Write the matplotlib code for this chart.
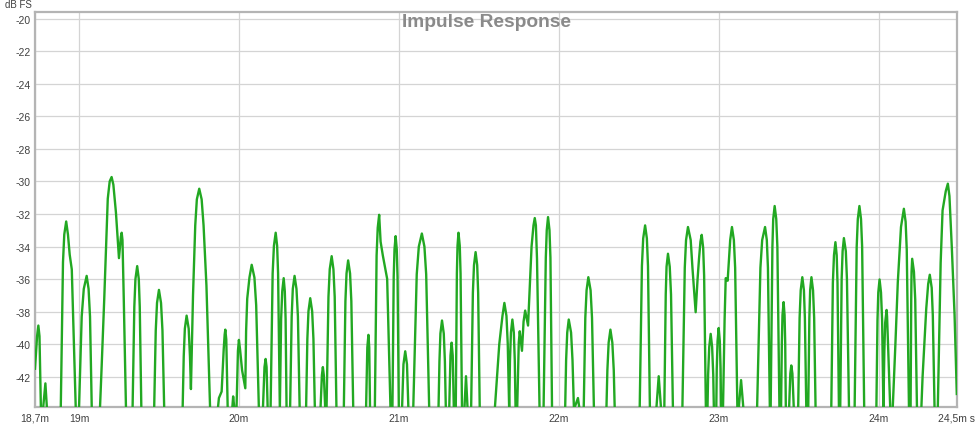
import matplotlib
matplotlib.use("Agg")
import matplotlib.pyplot as plt

# Impulse response trace (time in ms, level in dB FS).
# One line per lobe; -44 sits just under the plot floor, where a lobe leaves the bottom edge.
time_ms = [
    18.725, 18.738, 18.746, 18.753, 18.762,
    18.775, 18.79, 18.80,
    18.886, 18.900, 18.908, 18.92, 18.931, 18.942, 18.955, 18.98,
    19.0, 19.017, 19.030, 19.048, 19.060, 19.069, 19.08,
    19.131, 19.142, 19.158, 19.18, 19.192, 19.204, 19.215, 19.231, 19.25, 19.262, 19.267, 19.272, 19.28, 19.294,
    19.335, 19.346, 19.353, 19.364, 19.374, 19.380, 19.39,
    19.47, 19.480, 19.488, 19.5, 19.513, 19.522, 19.533,
    19.648, 19.655, 19.662, 19.673, 19.686, 19.694, 19.70,
    19.713, 19.727, 19.737, 19.752, 19.767, 19.779, 19.797, 19.82,
    19.868, 19.875, 19.892, 19.905, 19.911, 19.915, 19.921, 19.93,
    19.958, 19.964, 19.972,
    19.985, 19.994, 20.0, 20.007, 20.02, 20.04,
    20.045, 20.052, 20.066, 20.08, 20.097, 20.108, 20.125,
    20.15, 20.160, 20.167, 20.173, 20.18,
    20.198, 20.211, 20.219, 20.23, 20.239, 20.245, 20.256,
    20.264, 20.271, 20.28, 20.287, 20.292, 20.298,
    20.32, 20.330, 20.337, 20.348, 20.360, 20.369, 20.38,
    20.42, 20.428, 20.435, 20.446, 20.458, 20.466, 20.475,
    20.51, 20.519, 20.525, 20.531, 20.54,
    20.548, 20.560, 20.568, 20.58, 20.591, 20.599, 20.61,
    20.656, 20.666, 20.673, 20.683, 20.695, 20.703, 20.715,
    20.795, 20.803, 20.81, 20.815, 20.82,
    20.85, 20.861, 20.868, 20.877, 20.886, 20.90, 20.927, 20.948,
    20.96, 20.968, 20.973, 20.98, 20.987, 20.992, 21.0,
    21.02, 21.029, 21.04, 21.051, 21.06,
    21.09, 21.112, 21.125, 21.144, 21.160, 21.171, 21.19,
    21.248, 21.254, 21.260, 21.27, 21.281, 21.288, 21.294,
    21.315, 21.323, 21.33, 21.337, 21.344,
    21.356, 21.363, 21.367, 21.373, 21.381, 21.386, 21.395,
    21.41, 21.42, 21.43,
    21.452, 21.463, 21.470, 21.48, 21.490, 21.496, 21.506,
    21.6, 21.628, 21.648, 21.66, 21.673, 21.681, 21.69,
    21.695, 21.701, 21.71, 21.719, 21.725, 21.73,
    21.74, 21.75, 21.756, 21.762, 21.77, 21.78, 21.79, 21.799, 21.808, 21.83, 21.842, 21.85, 21.857, 21.864, 21.88,
    21.905, 21.919, 21.925, 21.933, 21.942, 21.948, 21.958,
    22.04, 22.046, 22.053, 22.0625, 22.077, 22.086, 22.095, 22.12, 22.13,
    22.156, 22.166, 22.174, 22.185, 22.199, 22.208, 22.22,
    22.298, 22.304, 22.312, 22.323, 22.335, 22.344, 22.35,
    22.506, 22.52, 22.528, 22.54, 22.551, 22.558, 22.57,
    22.61, 22.625, 22.64,
    22.66, 22.669, 22.674, 22.683, 22.694, 22.702, 22.714,
    22.773, 22.788, 22.796, 22.808, 22.825, 22.836, 22.856, 22.868, 22.877, 22.886, 22.894, 22.903, 22.909, 22.92,
    22.93, 22.934, 22.941, 22.95, 22.959, 22.966, 22.97,
    22.985, 22.988, 22.993, 23.0, 23.007, 23.012, 23.015,
    23.027, 23.037, 23.044, 23.056, 23.072, 23.083, 23.095, 23.103, 23.117,
    23.125, 23.14, 23.155,
    23.24, 23.261, 23.272, 23.29, 23.301, 23.308, 23.32,
    23.325, 23.336, 23.341, 23.35, 23.360, 23.367, 23.38,
    23.39, 23.395, 23.399, 23.406, 23.412, 23.416, 23.42,
    23.44, 23.448, 23.454, 23.461, 23.47,
    23.497, 23.506, 23.513, 23.523, 23.533, 23.539, 23.548,
    23.56, 23.567, 23.572, 23.58, 23.59, 23.597, 23.606,
    23.704, 23.714, 23.721, 23.73, 23.738, 23.743, 23.752,
    23.76, 23.769, 23.775, 23.783, 23.795, 23.802, 23.815,
    23.85, 23.863, 23.870, 23.88, 23.890, 23.897, 23.91,
    23.986, 23.993, 23.998, 24.006, 24.015, 24.022, 24.03,
    24.036, 24.041, 24.05, 24.053, 24.056, 24.073,
    24.088, 24.105, 24.12, 24.14, 24.158, 24.169, 24.176, 24.19,
    24.2, 24.204, 24.206, 24.21, 24.221, 24.229, 24.24,
    24.267, 24.275, 24.298, 24.31, 24.32, 24.332, 24.339, 24.35,
    24.37, 24.388, 24.40, 24.42, 24.433, 24.443, 24.458, 24.475, 24.489,
]
level_db = [
    -41.5, -39.5, -38.85, -39.5, -44,
    -44, -42.4, -44,
    -44, -34.96, -33.26, -32.46, -33.26, -34.5, -35.4, -44,
    -44, -38.3, -36.6, -35.8, -36.6, -38.3, -44,
    -44, -41.3, -37.2, -31.06, -30.0, -29.73, -30.2, -31.9, -34.71, -33.4, -33.15, -33.6, -37.2, -44,
    -44, -37.7, -36.0, -35.2, -36.0, -37.7, -44,
    -44, -39.16, -37.46, -36.66, -37.46, -39.16, -44,
    -44, -40.74, -39.04, -38.24, -39.04, -40.74, -42.75,
    -37.0, -32.7, -31.1, -30.45, -31.1, -32.7, -36.4, -44,
    -44, -43.3, -42.9, -40.3, -39.4, -39.1, -39.7, -44,
    -44, -43.2, -44,
    -44, -40.4, -39.73, -40.3, -41.6, -42.7,
    -39.2, -37.2, -35.9, -35.12, -35.9, -37.6, -44,
    -44, -41.4, -40.9, -41.4, -44,
    -44, -35.65, -33.95, -33.15, -33.95, -35.65, -44,
    -38.44, -36.74, -35.94, -36.74, -38.44, -44,
    -44, -38.3, -36.6, -35.8, -36.6, -38.3, -44,
    -44, -39.67, -37.97, -37.17, -37.97, -39.67, -44,
    -44, -41.9, -41.4, -41.9, -44,
    -44, -37.09, -35.39, -34.59, -35.39, -37.09, -44,
    -44, -37.35, -35.65, -34.85, -35.65, -37.35, -44,
    -44, -40.2, -39.42, -40.2, -44,
    -44, -34.55, -32.85, -32.05, -33.7, -34.55, -35.98, -44,
    -44, -35.86, -34.16, -33.36, -34.16, -35.86, -44,
    -44, -41.23, -40.43, -41.23, -44,
    -44, -35.7, -34.0, -33.2, -34.0, -35.7, -44,
    -44, -41.04, -39.34, -38.54, -39.34, -41.04, -44,
    -44, -40.7, -39.9, -40.7, -44,
    -44, -35.65, -33.95, -33.15, -33.95, -35.65, -44,
    -44, -41.96, -44,
    -44, -36.84, -35.14, -34.34, -35.14, -36.84, -44,
    -44, -40.0, -38.26, -37.46, -38.26, -39.96, -44,
    -40.98, -39.28, -38.48, -39.28, -40.98, -44,
    -44, -39.9, -39.2, -39.7, -40.4, -38.6, -37.93, -38.4, -38.85, -34.0, -32.7, -32.25, -32.7, -34.75, -44,
    -44, -34.69, -32.99, -32.19, -32.99, -34.69, -44,
    -44, -40.98, -39.28, -38.48, -39.28, -40.98, -44, -43.3, -44,
    -44, -38.38, -36.68, -35.88, -36.68, -38.38, -44,
    -44, -41.6, -39.9, -39.1, -39.9, -41.6, -44,
    -44, -35.2, -33.5, -32.7, -33.5, -35.2, -44,
    -44, -41.96, -44,
    -44, -36.94, -35.24, -34.44, -35.24, -36.94, -44,
    -44, -35.3, -33.6, -32.8, -33.6, -35.3, -38.03, -36.0, -34.75, -33.7, -33.28, -34.08, -35.78, -44,
    -44, -41.86, -40.16, -39.36, -40.16, -41.86, -44,
    -44, -41.5, -39.8, -39.0, -39.8, -41.5, -44,
    -44, -38.5, -35.94, -36.1, -33.6, -32.8, -33.6, -35.3, -44,
    -44, -42.2, -44,
    -44, -35.3, -33.6, -32.8, -33.6, -35.3, -44,
    -44, -34.01, -32.31, -31.51, -32.31, -34.01, -44,
    -44, -39.91, -38.21, -37.41, -38.21, -39.91, -44,
    -44, -41.8, -41.3, -41.8, -44,
    -44, -38.38, -36.68, -35.88, -36.68, -38.38, -44,
    -44, -38.38, -36.68, -35.88, -36.68, -38.38, -44,
    -44, -36.23, -34.53, -33.73, -34.53, -36.23, -44,
    -44, -35.98, -34.28, -33.48, -34.28, -35.98, -44,
    -44, -34.01, -32.31, -31.51, -32.31, -34.01, -44,
    -44, -38.52, -36.82, -36.02, -36.82, -38.52, -44,
    -40.39, -38.69, -37.89, -38.3, -39.15, -44,
    -44, -40.0, -36.2, -32.8, -31.68, -32.48, -34.18, -44,
    -44, -37.25, -35.55, -34.75, -35.55, -37.25, -44,
    -44, -42.0, -37.8, -36.3, -35.73, -36.53, -38.23, -44,
    -44, -35.0, -31.78, -30.6, -30.14, -30.9, -34.1, -38.2, -43.05,
]

x_ticks = [19, 20, 21, 22, 23, 24]
x_tick_labels = ["19m", "20m", "21m", "22m", "23m", "24m"]
x_range = [18.725, 24.49]
x_edge_labels = ["18,7m", "24,5m s"]
y_ticks = [-20, -22, -24, -26, -28, -30, -32, -34, -36, -38, -40, -42]
y_range = [-43.85, -19.6]

trace_color = "#22a822"
grid_color = "#d4d4d4"
frame_color = "#b4b4b4"
label_color = "#404040"

assert len(time_ms) == len(level_db)

plt.rcParams['font.family'] = ['Liberation Sans', 'DejaVu Sans']

figure = plt.figure(figsize=(9.75, 4.27), dpi=100)
axes = figure.add_axes([0.0359, 0.0445, 0.9456, 0.925])

axes.plot(time_ms, level_db, color=trace_color, linewidth=1.7,
          solid_joinstyle="round", zorder=3)

axes.set_xlim(x_range)
axes.set_ylim(y_range)

# Ticks at the two edges carry the range labels, as in REW.
axes.set_xticks([x_range[0]] + x_ticks + [x_range[1]])
axes.set_xticklabels([x_edge_labels[0]] + x_tick_labels + [x_edge_labels[1]])
axes.set_yticks(y_ticks)
axes.set_yticklabels([str(v) for v in y_ticks])
axes.tick_params(axis="both", length=0, labelsize=7.5, labelcolor=label_color, pad=3)
axes.tick_params(axis="x", pad=4)

axes.grid(True, color=grid_color, linewidth=0.9, zorder=0)
axes.set_axisbelow(True)
for spine in axes.spines.values():
    spine.set_color(frame_color)
    spine.set_linewidth(1.6)

axes.text(0.49, 0.975, "Impulse Response", transform=axes.transAxes,
          ha="center", va="center", fontsize=13.8, fontweight="bold", color="#8a8a8a")
figure.text(5 / 975, 1 - 5 / 427, "dB FS", ha="left", va="center",
            fontsize=7, color=label_color)

figure.savefig("out.png", dpi=100)
